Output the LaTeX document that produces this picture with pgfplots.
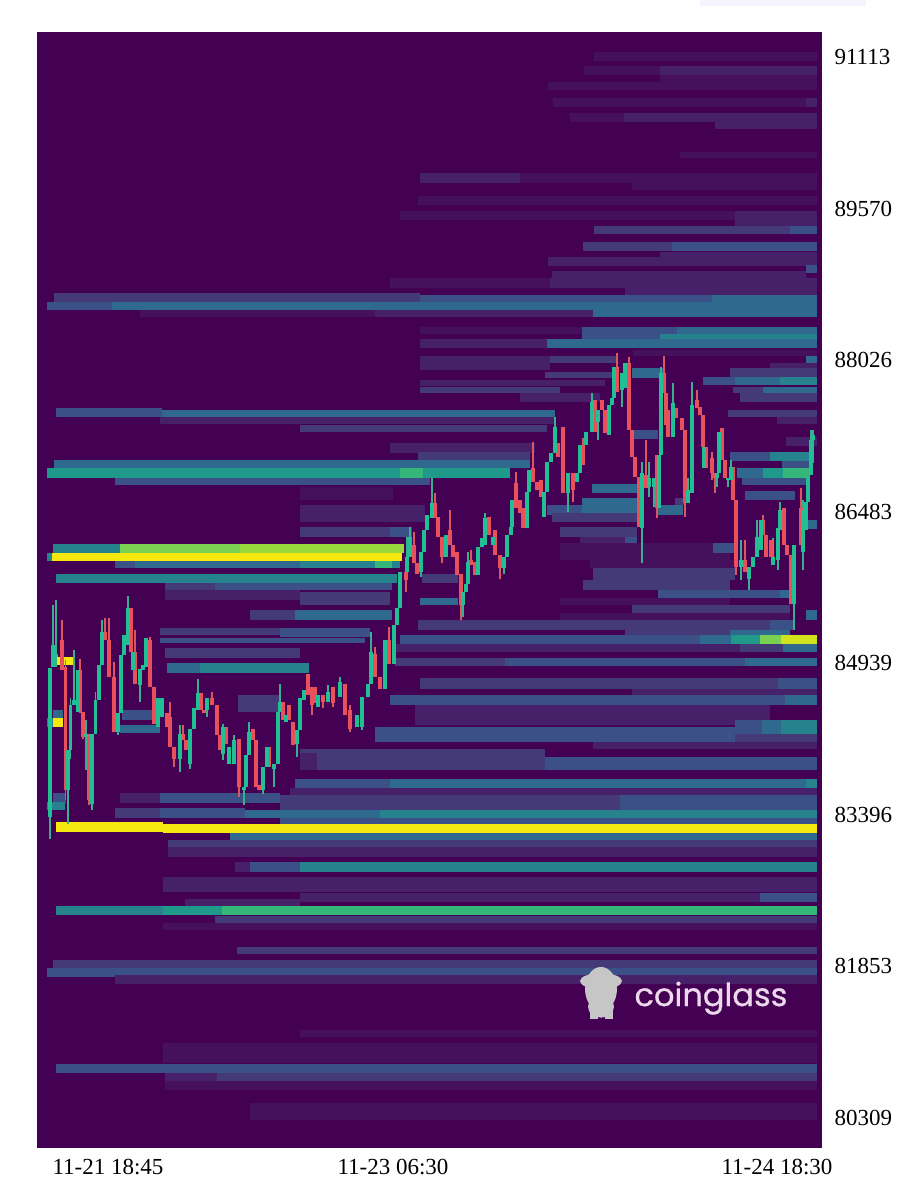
\documentclass[border=0pt]{standalone}
\usepackage{pgfplots}
\usepackage{pgfplotstable}
\usepackage{fontspec}
\setmainfont{Liberation Serif}
\newfontfamily\wmfont[FakeBold=0.6]{Poppins}
\pgfplotsset{compat=1.18}
\definecolor{bg}{HTML}{440154}
\definecolor{z}{HTML}{45105C}
\definecolor{a}{HTML}{462068}
\definecolor{b}{HTML}{453A78}
\definecolor{c}{HTML}{3C5088}
\definecolor{d}{HTML}{2F6A8E}
\definecolor{e}{HTML}{26838E}
\definecolor{f}{HTML}{1F9A8A}
\definecolor{g}{HTML}{35B779}
\definecolor{h}{HTML}{7AD151}
\definecolor{hi}{HTML}{98D83E}
\definecolor{i}{HTML}{D2E21B}
\definecolor{j}{HTML}{F6E80F}
\definecolor{candleG}{HTML}{20C094}
\definecolor{candleR}{HTML}{E8505B}
\newcommand{\hb}[5]{\addplot[fill=#1,draw=none,forget plot,mark=none] coordinates {(#2,#4)(#3,#4)(#3,#5)(#2,#5)} --cycle;}
\pgfplotstableread{
x top bot hi lo
50 84887 83373 84887 83152
53 85122 84901 85530 84901
56 85037 85003 85581 84901
68 84052 83644 84052 83305
70.5 84511 84052 84579 83967
74 84562 84511 85071 84511
78 84867 84443 84867 84443
86 84222 84188 84358 83848
92 84222 83509 84222 83441
95.5 84562 84222 84647 84222
99 84918 84562 84918 84562
102 85258 84918 85377 84918
118 84426 84239 84426 84205
121 85020 84426 85020 84426
124 85224 85020 85224 85020
128 85496 85122 85621 85122
133 85054 84867 85054 84867
140 84884 84714 84884 84545
143 84918 84867 84918 84867
146 85190 84901 85190 84901
158 84579 84290 84579 84290
162 84582 84392 84582 84392
180 84222 83967 84307 83831
190 84273 83916 84273 83865
194 84477 84273 84477 84273
198 84630 84460 84782 84460
207 84579 84460 84579 84392
223 84290 84018 84324 83950
229 84086 83916 84086 83916
234 84154 83916 84205 83916
244 83678 83644 83678 83492
246 84001 83678 84001 83678
249 84239 84001 84341 84001
263 83882 83644 83882 83611
267 84086 83882 84086 83882
274 83916 83865 83916 83678
278 84443 83916 84443 83916
280 84545 84443 84731 84443
286 84409 84341 84409 84341
297 84256 84120 84256 83984
300 84579 84256 84579 84256
304 84664 84562 84664 84562
318 84612 84494 84612 84494
328 84646 84544 84714 84544
340 84748 84595 84799 84595
357 84409 84290 84409 84290
362 84595 84290 84595 84256
368 84731 84595 84731 84595
371 85054 84731 85258 84731
385 85173 84680 85173 84680
394 85326 84935 85326 84935
397 85496 85326 85496 85326
400 85869 85496 85869 85496
407 86022 85869 86226 85869
410 86226 86022 86328 86022
421 86073 85869 86073 85818
424 86294 86073 86294 86073
427 86447 86294 86447 86294
432 86566 86413 86820 86413
446 86243 86022 86243 86022
463 85666 85530 85666 85411
466 85750 85666 85750 85666
468 85971 85750 86073 85750
478 86124 85835 86124 85835
482 86209 86124 86209 86124
485 86413 86141 86464 86141
493 86226 86141 86226 86141
504 86022 85903 86022 85852
507 86243 86022 86243 86022
511 86328 86243 86328 86243
512 86600 86328 86600 86328
527 86685 86311 86685 86311
529 86906 86685 86906 86685
544 86685 86430 86685 86430
547 86990 86685 86990 86685
551 87075 86990 87075 86990
555 87347 87075 87450 87075
568 86872 86668 86872 86481
577 86872 86787 86872 86787
580 87160 86871 87160 86871
586 87296 87160 87296 87160
592 87602 87296 87687 87296
598 87517 87398 87517 87211
609 87568 87262 87568 87262
612 87636 87568 87636 87568
614 87958 87636 87958 87636
622 87890 87721 87890 87551
625 87992 87738 87992 87738
642 86872 86311 86990 85954
649 86820 86735 86990 86634
654 86820 86735 86820 86532
659 87058 86515 87058 86515
661 87890 87058 87958 87058
673 87585 87245 87789 87245
688 86701 86566 86820 86566
692 87568 86668 87806 86668
704 87143 86922 87143 86922
717 86871 86820 86871 86735
719 87296 86871 87296 86871
728 86820 86803 86820 86735
731 86939 86803 87007 86803
741 85988 85920 86192 85784
749 85920 85801 85920 85682
753 86022 85920 86022 85920
757 86226 86022 86396 86022
761 86396 86090 86396 86090
773 86022 85937 86209 85937
778 86311 85988 86311 85886
780 86498 86294 86583 86294
794 86141 85546 86141 85275
803 86498 86073 86600 85886
806 86583 86294 86583 86294
808 86837 86583 86837 86583
811 87211 86854 87313 86854
813 87262 87211 87313 86974
}\greenT
\pgfplotstableread{
x top bot hi lo
62 85173 84867 85377 84867
65.5 84901 83644 84969 83543
80 84867 84443 84986 84426
83 84443 84188 84443 84171
89 84188 83543 84222 83492
105 85258 85173 85394 85173
109 85173 84799 85394 84799
114 84799 84239 84952 84239
131 85496 85054 85496 85054
135 85054 84731 85275 84731
150 85173 84697 85207 84697
154 84697 84324 84697 84324
167 84426 84290 84426 84290
170 84392 84086 84545 84086
174 84086 83967 84086 83882
183 84222 84154 84307 84154
186 84154 84052 84154 84052
201 84630 84460 84630 84460
204 84460 84426 84460 84426
212 84579 84511 84647 84511
217 84511 84205 84511 84205
220 84205 84052 84205 84052
226 84290 84120 84290 84120
239 84171 83678 84171 83577
253 84273 84154 84273 84154
256 84154 83678 84154 83678
259 83695 83644 83695 83644
269 84086 83882 84086 83882
283 84545 84358 84545 84358
289 84511 84358 84511 84358
293 84341 84103 84341 84103
308 84833 84612 84833 84612
312 84697 84510 84697 84409
315 84697 84528 84697 84528
323 84612 84544 84612 84477
333 84697 84528 84697 84494
345 84731 84409 84731 84409
350 84460 84273 84510 84239
375 85037 84799 85105 84799
380 84799 84680 84799 84680
389 85173 84935 85309 84935
406 85869 85784 85869 85666
414 86141 85954 86277 85954
417 85954 85852 85954 85852
435 86566 86413 86668 86413
438 86430 86226 86430 86226
442 86226 86022 86226 85954
450 86294 86141 86498 86141
453 86141 86022 86141 86022
457 86073 85835 86073 85835
461 85852 85530 85852 85377
471 85988 85937 86090 85937
475 85971 85835 85971 85835
483 86192 86141 86192 86141
489 86430 86243 86430 86243
495 86294 86039 86294 86039
500 86039 85903 86039 85801
516 86770 86515 86888 86515
520 86600 86464 86600 86464
523 86515 86311 86515 86311
533 86923 86787 87194 86787
537 86787 86702 86787 86702
541 86804 86634 86804 86634
558 87177 87041 87177 87041
563 87347 86668 87347 86668
573 86872 86702 86872 86583
583 87160 86956 87228 86956
595 87619 87296 87619 87296
602 87619 87517 87619 87517
605 87517 87279 87517 87279
617 87958 87704 88101 87704
626 87890 87738 87890 87738
629 87992 87313 88060 87313
632 87313 87041 87313 87041
635 87041 86837 87041 86837
639 86837 86328 86837 86328
646 86854 86718 87211 86718
657 87058 86515 87058 86414
664 87890 87687 88067 87687
666 87687 87364 87687 87364
668 87517 87245 87517 87245
676 87534 87432 87534 87432
682 87432 87313 87432 87313
685 87313 86566 87313 86430
697 87618 87534 87720 87534
700 87551 87466 87551 87466
703 87466 87143 87466 87143
706 87143 86922 87143 86922
712 87024 86871 87092 86803
715 86871 86820 86871 86668
722 87330 87007 87330 87007
725 87007 86820 87007 86820
733 86939 86600 86939 86600
736 86600 85920 86600 85835
745 85988 85869 86192 85869
763 86396 86243 86447 86243
766 86243 86022 86243 86022
771 86192 86022 86192 86022
784 86515 86141 86515 86141
787 86141 86039 86141 86039
791 86039 85546 86039 85546
801 86515 86141 86719 86141
}\redT
\begin{document}
\begin{tikzpicture}
\path[use as bounding box] (-37pt,-52pt) rectangle (878pt,1148pt);
\fill[blue!4!white] (663pt,1142pt) rectangle (829pt,1148pt);
\begin{axis}[
  width=785pt,height=1116pt,scale only axis,
  xmin=37,xmax=822,ymin=80000,ymax=91368,
  axis line style={draw=none},
  axis background/.style={fill=bg},
  major tick length=0pt,
  xtick={108,393,777},
  xticklabels={11-21 18:45,11-23 06:30,11-24 18:30},
  ytick={80309,81853,83396,84939,86483,88026,89570,91113},
  yticklabels={80309,81853,83396,84939,86483,88026,89570,91113},
  yticklabel pos=right,
  tick label style={font=\fontsize{23}{25}\selectfont},
  /pgf/number format/assume math mode=true,
  xticklabel shift=8pt,
  yticklabel shift=9pt,
  clip=true,
]
% far-right upper region
\hb{z}{594}{817}{91164}{91072}
\hb{z}{584}{660}{91022}{90930}
\hb{a}{660}{817}{91022}{90930}
\hb{z}{660}{817}{90930}{90859}
\hb{z}{548}{817}{90859}{90777}
\hb{z}{553}{806}{90696}{90604}
\hb{a}{806}{817}{90696}{90604}
\hb{z}{570}{624}{90543}{90451}
\hb{a}{624}{817}{90543}{90451}
\hb{a}{715}{817}{90451}{90380}
\hb{z}{680}{817}{90145}{90084}
\hb{a}{420}{520}{89931}{89830}
\hb{z}{520}{817}{89931}{89830}
\hb{z}{632}{817}{89830}{89758}
\hb{z}{418}{817}{89697}{89605}
\hb{z}{400}{735}{89544}{89453}
\hb{a}{735}{817}{89544}{89381}
\hb{b}{594}{790}{89392}{89310}
\hb{c}{790}{817}{89392}{89310}
\hb{b}{583}{672}{89228}{89137}
\hb{c}{672}{817}{89228}{89137}
\hb{a}{660}{817}{89127}{89076}
\hb{a}{548}{817}{89076}{88984}
\hb{c}{806}{817}{88994}{88913}
\hb{a}{552}{806}{88933}{88831}
\hb{z}{390}{550}{88862}{88760}
\hb{a}{550}{817}{88862}{88760}
\hb{a}{625}{817}{88770}{88688}
% long high band
\hb{b}{54}{420}{88709}{88617}
\hb{c}{420}{712}{88688}{88617}
\hb{d}{712}{817}{88688}{88617}
\hb{c}{47}{112}{88617}{88536}
\hb{d}{112}{817}{88617}{88536}
\hb{d}{593}{817}{88536}{88464}
\hb{z}{140}{375}{88536}{88464}
\hb{a}{375}{593}{88536}{88464}
\hb{z}{420}{582}{88362}{88291}
\hb{c}{582}{677}{88362}{88291}
\hb{d}{677}{817}{88362}{88291}
\hb{c}{582}{660}{88291}{88240}
\hb{e}{660}{817}{88291}{88199}
\hb{a}{420}{547}{88240}{88149}
\hb{d}{547}{817}{88240}{88149}
\hb{z}{633}{817}{88128}{88067}
\hb{a}{420}{550}{88067}{87996}
\hb{b}{550}{617}{88067}{87996}
\hb{d}{806}{817}{88067}{87996}
\hb{a}{420}{550}{87996}{87924}
\hb{a}{770}{817}{87996}{87924}
\hb{d}{632}{663}{87945}{87843}
\hb{b}{730}{817}{87945}{87853}
\hb{b}{545}{612}{87904}{87843}
\hb{a}{420}{605}{87823}{87761}
\hb{c}{703}{735}{87853}{87772}
\hb{d}{735}{780}{87853}{87772}
\hb{e}{780}{817}{87853}{87772}
\hb{b}{420}{560}{87751}{87690}
\hb{b}{733}{763}{87751}{87690}
\hb{d}{763}{817}{87751}{87690}
\hb{a}{520}{600}{87690}{87598}
\hb{b}{740}{817}{87690}{87598}
% 87500 band
\hb{c}{56}{162}{87537}{87446}
\hb{d}{162}{555}{87517}{87446}
\hb{b}{728}{817}{87517}{87446}
\hb{a}{160}{555}{87446}{87374}
\hb{a}{777}{817}{87446}{87374}
\hb{b}{300}{547}{87364}{87293}
\hb{c}{633}{658}{87313}{87221}
\hb{a}{786}{817}{87241}{87150}
\hb{a}{390}{535}{87181}{87079}
\hb{b}{418}{530}{87089}{86997}
\hb{c}{730}{770}{87089}{86997}
\hb{e}{770}{810}{87089}{86997}
% main teal band
\hb{d}{54}{237}{87008}{86926}
\hb{d}{237}{530}{87008}{86926}
\hb{c}{782}{810}{86997}{86926}
\hb{f}{47}{400}{86926}{86824}
\hb{g}{400}{423}{86926}{86824}
\hb{f}{423}{510}{86926}{86824}
\hb{d}{737}{763}{86926}{86824}
\hb{f}{763}{783}{86926}{86824}
\hb{g}{783}{810}{86926}{86824}
\hb{c}{115}{430}{86824}{86753}
\hb{c}{742}{807}{86824}{86753}
\hb{d}{592}{640}{86763}{86671}
\hb{z}{300}{393}{86732}{86600}
\hb{c}{745}{795}{86692}{86600}
\hb{d}{582}{638}{86620}{86518}
\hb{c}{547}{582}{86549}{86448}
\hb{d}{582}{638}{86549}{86448}
\hb{d}{658}{683}{86549}{86448}
\hb{b}{675}{685}{86620}{86549}
\hb{a}{300}{425}{86549}{86376}
\hb{b}{552}{638}{86468}{86376}
\hb{b}{300}{390}{86325}{86223}
\hb{c}{390}{412}{86325}{86223}
\hb{b}{560}{637}{86325}{86223}
\hb{d}{806}{817}{86396}{86305}
\hb{a}{580}{625}{86223}{86162}
\hb{c}{625}{637}{86223}{86162}
\hb{z}{560}{730}{86162}{85989}
\hb{c}{713}{737}{86162}{86060}
% yellow block
\hb{e}{53}{120}{86152}{86060}
\hb{h}{120}{240}{86152}{86060}
\hb{hi}{240}{404}{86152}{86060}
\hb{e}{47}{52}{86060}{85979}
\hb{j}{52}{402}{86060}{85979}
\hb{c}{115}{135}{85979}{85907}
\hb{d}{135}{300}{85979}{85907}
\hb{e}{300}{375}{85979}{85907}
\hb{g}{375}{392}{85979}{85907}
\hb{e}{392}{400}{85979}{85907}
\hb{z}{590}{735}{85989}{85907}
\hb{b}{593}{735}{85907}{85785}
\hb{e}{56}{178}{85846}{85754}
\hb{e}{178}{397}{85846}{85754}
\hb{b}{422}{458}{85846}{85754}
\hb{b}{583}{730}{85785}{85683}
\hb{b}{165}{215}{85754}{85683}
\hb{c}{215}{392}{85754}{85683}
\hb{c}{658}{780}{85683}{85601}
\hb{d}{780}{790}{85683}{85601}
\hb{a}{165}{300}{85683}{85581}
\hb{b}{300}{390}{85663}{85530}
\hb{d}{420}{458}{85601}{85530}
\hb{z}{560}{730}{85601}{85530}
\hb{b}{632}{790}{85530}{85449}
\hb{b}{250}{295}{85479}{85377}
\hb{d}{295}{392}{85479}{85377}
\hb{d}{806}{817}{85479}{85377}
\hb{z}{560}{790}{85449}{85377}
\hb{b}{418}{625}{85377}{85276}
\hb{b}{625}{770}{85377}{85276}
\hb{c}{770}{795}{85377}{85276}
\hb{b}{160}{280}{85296}{85225}
\hb{c}{280}{370}{85296}{85204}
\hb{b}{625}{730}{85276}{85204}
\hb{d}{730}{790}{85276}{85204}
\hb{c}{160}{365}{85194}{85143}
\hb{c}{400}{700}{85225}{85133}
\hb{d}{700}{731}{85225}{85133}
\hb{f}{731}{760}{85225}{85133}
\hb{h}{760}{781}{85225}{85133}
\hb{i}{781}{817}{85225}{85133}
\hb{b}{165}{300}{85092}{84990}
\hb{a}{395}{740}{85133}{85051}
\hb{b}{740}{783}{85133}{85051}
\hb{d}{783}{817}{85133}{85051}
\hb{b}{395}{505}{84990}{84909}
\hb{c}{505}{745}{84990}{84909}
\hb{d}{745}{817}{84990}{84909}
\hb{j}{56}{73}{85000}{84919}
\hb{d}{167}{200}{84939}{84837}
\hb{e}{200}{309}{84939}{84837}
\hb{b}{420}{778}{84787}{84674}
\hb{c}{778}{817}{84787}{84674}
\hb{a}{632}{817}{84674}{84613}
\hb{c}{390}{785}{84613}{84511}
\hb{d}{785}{817}{84613}{84511}
\hb{b}{238}{280}{84613}{84440}
\hb{d}{53}{63}{84460}{84379}
\hb{c}{122}{155}{84460}{84358}
\hb{a}{415}{770}{84511}{84308}
\hb{c}{735}{762}{84358}{84216}
\hb{d}{762}{781}{84358}{84216}
\hb{e}{781}{817}{84358}{84216}
\hb{e}{47}{53}{84379}{84287}
\hb{j}{53}{63}{84379}{84287}
\hb{d}{120}{160}{84308}{84226}
\hb{c}{375}{735}{84287}{84135}
\hb{b}{735}{817}{84216}{84135}
\hb{a}{593}{817}{84135}{84063}
\hb{b}{300}{545}{84063}{83849}
\hb{c}{545}{817}{83982}{83849}
\hb{a}{300}{317}{84022}{83849}
% bands below
\hb{c}{295}{390}{83758}{83666}
\hb{d}{390}{806}{83758}{83666}
\hb{e}{806}{817}{83758}{83666}
\hb{a}{290}{817}{83666}{83595}
\hb{c}{53}{66}{83615}{83513}
\hb{a}{120}{160}{83615}{83513}
\hb{c}{160}{280}{83615}{83513}
\hb{b}{280}{620}{83595}{83442}
\hb{c}{620}{817}{83595}{83442}
\hb{e}{47}{65}{83523}{83442}
\hb{b}{115}{160}{83462}{83361}
\hb{c}{160}{245}{83462}{83361}
\hb{d}{245}{380}{83442}{83361}
\hb{e}{380}{817}{83442}{83361}
\hb{c}{280}{817}{83361}{83299}
\hb{j}{56}{163}{83320}{83218}
\hb{j}{163}{817}{83299}{83208}
\hb{d}{230}{817}{83208}{83136}
\hb{b}{168}{300}{83136}{83065}
\hb{b}{300}{817}{83136}{83065}
\hb{a}{168}{817}{83065}{82963}
\hb{a}{235}{250}{82912}{82810}
\hb{c}{250}{300}{82912}{82810}
\hb{e}{300}{817}{82912}{82810}
\hb{a}{163}{817}{82759}{82606}
\hb{a}{300}{760}{82596}{82504}
\hb{c}{760}{817}{82596}{82504}
\hb{a}{185}{300}{82535}{82453}
\hb{e}{56}{163}{82464}{82372}
\hb{f}{163}{222}{82464}{82372}
\hb{g}{222}{817}{82464}{82372}
\hb{b}{215}{817}{82362}{82291}
\hb{z}{163}{817}{82291}{82219}
\hb{b}{237}{817}{82046}{81975}
\hb{b}{53}{817}{81914}{81832}
\hb{c}{47}{115}{81832}{81740}
\hb{c}{115}{817}{81832}{81740}
\hb{a}{115}{160}{81761}{81669}
\hb{a}{160}{817}{81761}{81669}
\hb{z}{300}{817}{81200}{81129}
\hb{z}{163}{817}{81068}{80864}
\hb{c}{56}{817}{80854}{80762}
\hb{a}{165}{217}{80762}{80680}
\hb{b}{217}{817}{80762}{80680}
\hb{z}{165}{817}{80680}{80589}
\hb{z}{250}{817}{80457}{80284}
% candles: wicks, then bodies
\addplot[draw=none,mark=none,forget plot,error bars/.cd,y dir=minus,y explicit,error mark=none,error bar style={line width=1.4pt,draw=candleR!85!gray}] table[x=x,y=hi,y error minus expr=\thisrow{hi}-\thisrow{lo}] {\redT};
\addplot[draw=none,mark=none,forget plot,error bars/.cd,y dir=minus,y explicit,error mark=none,error bar style={line width=1.4pt,draw=candleG!75!gray}] table[x=x,y=hi,y error minus expr=\thisrow{hi}-\thisrow{lo}] {\greenT};
\addplot[draw=none,mark=none,forget plot,error bars/.cd,y dir=minus,y explicit,error mark=none,error bar style={line width=3.8pt,draw=candleR}] table[x=x,y=top,y error minus expr=\thisrow{top}-\thisrow{bot}] {\redT};
\addplot[draw=none,mark=none,forget plot,error bars/.cd,y dir=minus,y explicit,error mark=none,error bar style={line width=3.8pt,draw=candleG}] table[x=x,y=top,y error minus expr=\thisrow{top}-\thisrow{bot}] {\greenT};
% watermark
\fill[gray!45!white] (axis cs:601,81620) ellipse [x radius=16pt,y radius=22pt];
\fill[gray!45!white] (axis cs:601,81700) ellipse [x radius=21pt,y radius=8pt];
\fill[gray!45!white] (axis cs:590,81310) rectangle (axis cs:598,81480);
\fill[gray!45!white] (axis cs:605,81310) rectangle (axis cs:613,81480);
\fill[gray!45!white] (axis cs:601,81440) ellipse [x radius=13pt,y radius=11pt];
\fill[gray!45!white] (axis cs:590,81740) -- (axis cs:594,81790) -- (axis cs:599,81740) -- cycle;
\fill[gray!45!white] (axis cs:604,81740) -- (axis cs:610,81790) -- (axis cs:613,81740) -- cycle;
\node[text=white!85!violet,font=\wmfont\fontsize{32}{34}\selectfont,anchor=center] at (axis cs:711,81526) {coinglass};
\end{axis}
\end{tikzpicture}
\end{document}
